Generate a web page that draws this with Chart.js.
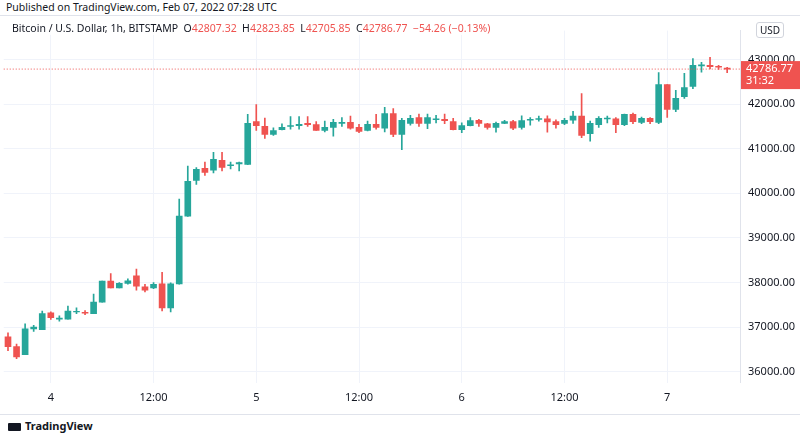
<!DOCTYPE html>
<html>
<head>
<meta charset="utf-8">
<script src="https://cdn.jsdelivr.net/npm/chart.js@4"></script>
<style>
  body { margin: 0; background: #fff; font-family: "Noto Sans", sans-serif; width: 800px; height: 439px; overflow: hidden; position: relative; }
  #pub { position: absolute; left: 6px; top: 0px; font-size: 10.5px; color: #131722; }
  #frame { position: absolute; left: 0; top: 15px; width: 800px; height: 398px; border-top: 1px solid #e0e3eb; border-bottom: 1px solid #e0e3eb; }
  #legend { position: absolute; left: 12px; top: 21px; font-size: 10.5px; color: #131722; z-index: 2; background: rgba(255,255,255,0.8); }
  #legend .v { color: #ef5350; }
  #usd { position: absolute; left: 756px; top: 22px; font-size: 10px; color: #131722; border: 1px solid #d1d4dc; border-radius: 3px; padding: 0 3px; z-index: 2; background: #fff; }
  #wrap { position: absolute; left: 0; top: 16px; width: 800px; height: 396px; }
  #logo { position: absolute; left: 8px; top: 418px; font-size: 11px; color: #131722; font-weight: bold; }
</style>
</head>
<body>
<div id="pub">Published on TradingView.com, Feb 07, 2022 07:28 UTC</div>
<div id="frame"></div>
<div id="legend">Bitcoin / U.S. Dollar, 1h, BITSTAMP &nbsp;O<span class="v">42807.32</span> &nbsp;H<span class="v">42823.85</span> &nbsp;L<span class="v">42705.85</span> &nbsp;C<span class="v">42786.77</span> &nbsp;<span class="v">−54.26 (−0.13%)</span></div>
<div id="usd">USD</div>
<div id="wrap"><canvas id="myChart"></canvas></div>
<div id="logo"><span style="display:inline-block;width:13px;height:8px;background:#131722;margin-right:4px;vertical-align:-1px;border-radius:1px"></span>TradingView</div>
<script>
// hours of each slot, first one is Feb 3 19:00 (last slot is empty right margin)
var hours = [];
for (var i = 0; i < 86; i++) hours.push((19 + i) % 24);
var dayLabels = { 5: "4", 29: "5", 53: "6", 77: "7" };

var open = [36780,36560,36380,36960,36940,37320,37180,37180,37340,37330,37300,37560,38030,37880,37980,38150,37900,37880,
  37970,37430,37970,39490,40290,40560,40520,40740,40620,40660,40650,41610,41500,41320,41430,41500,41520,
  41570,41540,41410,41480,41570,41590,41480,41410,41550,41460,41790,41320,41570,41700,41570,41650,41660,41610,41430,41520,41640,41560,
  41480,41570,41610,41480,41640,41660,41670,41610,41570,41640,41730,41340,41540,41670,41670,41540,41770,41590,41680,41590,42440,41880,42170,42400,42860,42870,42850,42807.32];
var close = [36560,36330,36960,37000,37300,37210,37200,37360,37350,37310,37560,38030,37880,37980,38040,37920,37830,37960,
  37430,37970,39490,40270,40540,40470,40760,40580,40640,40690,41570,41520,41320,41410,41480,41520,41550,
  41540,41410,41480,41590,41590,41460,41390,41550,41480,41790,41320,41640,41680,41570,41700,41670,41630,41430,41520,41630,41570,41480,
  41570,41610,41460,41630,41660,41670,41600,41540,41640,41730,41300,41570,41680,41680,41540,41770,41610,41680,41610,42440,41880,42130,42370,42870,42880,42840,42830,42786.77];
var high = [36870,36620,37070,37040,37360,37340,37250,37470,37430,37370,37740,38030,38200,38000,38080,38300,37960,38000,
  38230,37990,39870,40610,40580,40700,40920,40920,40700,40700,41770,41990,41690,41470,41560,41720,41720,
  41720,41610,41620,41660,41700,41730,41550,41620,41770,41930,41900,41680,41750,41780,41780,41750,41780,41680,41580,41700,41660,41570,
  41600,41640,41640,41740,41700,41730,41740,41650,41680,41840,42240,41620,41720,41730,41700,41780,41800,41710,41700,42710,42440,42310,42690,43020,42940,43050,42870,42823.85];
var low = [36470,36290,36380,36900,36940,37170,37130,37180,37300,37280,37300,37560,37880,37880,37960,37830,37790,37860,
  37360,37340,37960,39480,40200,40400,40460,40500,40550,40500,40640,41410,41230,41300,41420,41440,41440,
  41500,41410,41380,41280,41500,41440,41360,41400,41440,41380,41270,40980,41530,41500,41450,41580,41560,41420,41360,41510,41500,41440,
  41370,41560,41430,41440,41530,41620,41370,41460,41540,41570,41250,41170,41480,41580,41360,41520,41560,41560,41560,41560,41700,41830,42130,42350,42720,42790,42780,42705.85];
var yTicks = [36000,37000,38000,39000,40000,41000,42000,43000];
var lastPrice = 42786.77;

var up = "#26a69a", down = "#ef5350";
var colors = open.map(function (o, i) { return close[i] >= o ? up : down; });
var bodies = open.map(function (o, i) {
  var c = close[i];
  if (Math.abs(c - o) < 15) c = o + (c >= o ? 15 : -15);
  return [o, c];
});
var wicks = low.map(function (l, i) { return [l, high[i]]; });

var pricePlugin = {
  id: "price",
  afterDraw: function (chart) {
    var ctx = chart.ctx, y = chart.scales.y.getPixelForValue(lastPrice), a = chart.chartArea;
    ctx.save();
    ctx.strokeStyle = down;
    ctx.setLineDash([1, 2]);
    ctx.beginPath(); ctx.moveTo(a.left, y); ctx.lineTo(a.right, y); ctx.stroke();
    ctx.setLineDash([]);
    ctx.fillStyle = down;
    ctx.fillRect(a.right + 1, y - 8, 60, 28);
    ctx.fillStyle = "#fff";
    ctx.font = "11px 'Noto Sans'";
    ctx.textBaseline = "middle";
    ctx.fillText(lastPrice.toFixed(2), a.right + 6, y);
    ctx.fillText("31:32", a.right + 6, y + 12);
    ctx.restore();
  }
};

var ctx = document.getElementById("myChart").getContext("2d");
var chart = new Chart(ctx, {
  type: "bar",
  data: {
    labels: hours,
    datasets: [
      { data: wicks, backgroundColor: colors, barThickness: 1, grouped: false, order: 2 },
      { data: bodies, backgroundColor: colors, barThickness: 6, grouped: false, order: 1 }
    ]
  },
  options: {
    responsive: true,
    maintainAspectRatio: false,
    animation: false,
    layout: { padding: { top: 6 } },
    plugins: { legend: { display: false }, tooltip: { enabled: false } },
    scales: {
      x: {
        grid: {
          offset: false,
          color: function (c) { var h = hours[c.index]; return (h === 0 || h === 12) ? "#f0f3fa" : "transparent"; },
          drawTicks: false
        },
        border: { display: false },
        ticks: {
          autoSkip: false, maxRotation: 0, padding: 8,
          color: "#131722", font: { size: 11, family: "Noto Sans" },
          callback: function (v, i) {
            if (hours[i] === 12) return "12:00";
            return dayLabels[i] || "";
          }
        }
      },
      y: {
        position: "right",
        min: 35750, max: 43650,
        afterBuildTicks: function (s) { s.ticks = yTicks.map(function (v) { return { value: v }; }); },
        afterFit: function (s) { s.width = 60; },
        grid: { color: "#f0f3fa", drawTicks: false },
        border: { display: true, color: "#e0e3eb" },
        ticks: {
          padding: 8, color: "#131722", font: { size: 11, family: "Noto Sans" },
          callback: function (v) { return v.toFixed(2); }
        }
      }
    }
  },
  plugins: [pricePlugin]
});
</script>
</body>
</html>
